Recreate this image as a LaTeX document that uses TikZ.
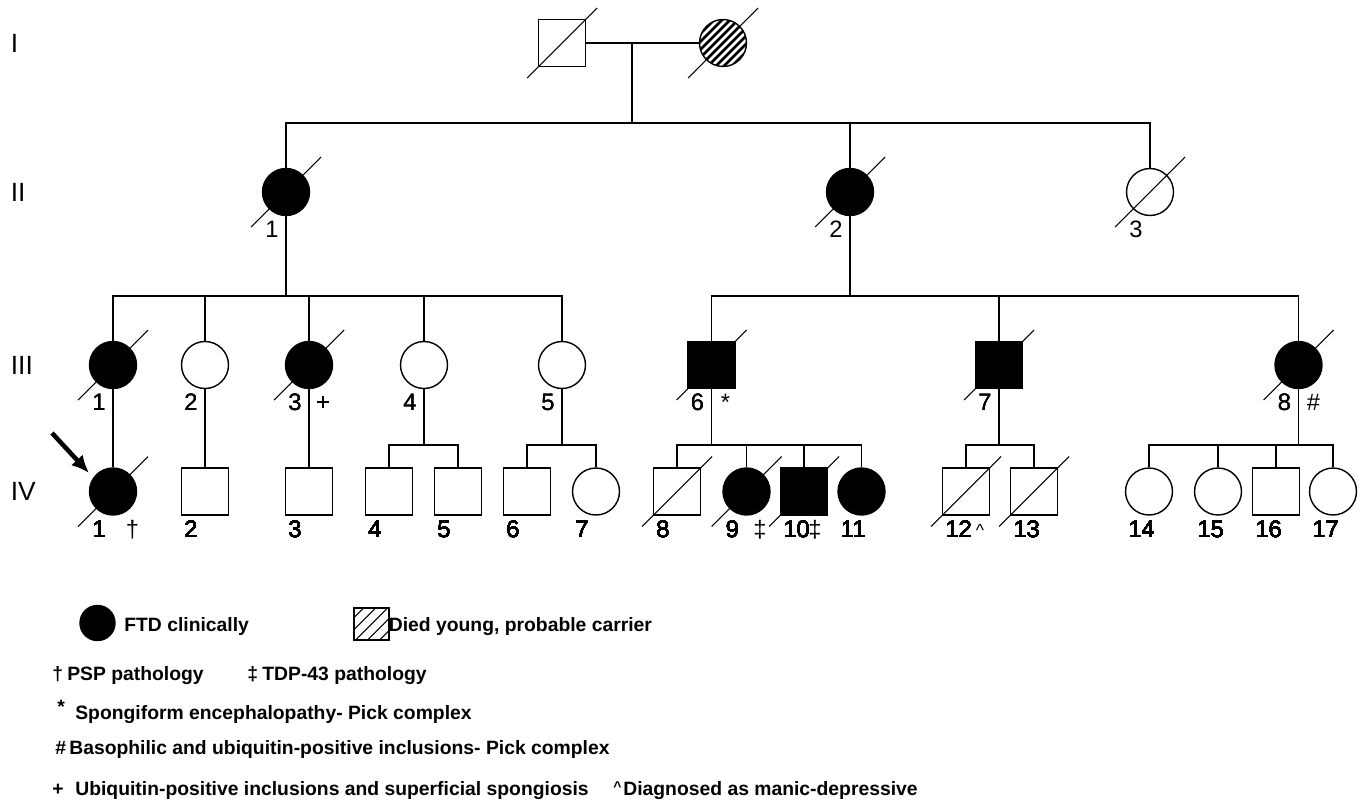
\documentclass[tikz,border=0pt]{standalone}
\usepackage{fontspec}
\setmainfont{Liberation Sans}
\usetikzlibrary{arrows.meta}

\tikzset{
  male/.style={draw, rectangle, line width=0.8pt, minimum size=0.94cm, inner sep=0pt},
  female/.style={draw, circle, line width=0.8pt, minimum size=0.94cm, inner sep=0pt},
  affected/.style={fill=black},
  carrier/.style={path picture={
      \foreach \d in {-24,-20,...,24}
        \draw[line width=1.5pt] ([shift={(\d-40,\d+40)}]path picture bounding box.center)
          -- ([shift={(\d+40,\d-40)}]path picture bounding box.center);}},
  keyhatch/.style={path picture={
      \foreach \d in {-24,-18,...,24}
        \draw[line width=0.6pt] ([shift={(\d-40,\d+40)}]path picture bounding box.center)
          -- ([shift={(\d+40,\d-40)}]path picture bounding box.center);}},
  idnum/.style={anchor=base west, inner sep=0pt, font=\fontsize{13.5}{16}\selectfont},
  idmark/.style={anchor=base, inner sep=0pt, font=\fontsize{13.5}{16}\selectfont},
  genlabel/.style={anchor=west, inner sep=0pt, font=\fontsize{15}{18}\selectfont},
  keytext/.style={anchor=base west, inner sep=0pt, font=\fontsize{11}{13}\selectfont\bfseries},
  kin/.style={line width=0.7pt},
  slashline/.style={line width=0.6pt},
}

\newcommand{\deceased}[1]{\draw[slashline] ([shift={(-35,35)}]#1.center) -- ([shift={(35,-35)}]#1.center);}
\newcommand{\idnumber}[2]{\node[idnum] (n#1) at ([shift={(-21,45.5)}]#1.center) {#2};}

\begin{document}
\begin{tikzpicture}[x=0.02cm, y=-0.02cm]
\useasboundingbox (0,0) rectangle (1365,808);

% generations
\node[genlabel] (gI) at (10.5,43) {I};
\node[genlabel] (gII) at (10.5,192) {II};
\node[genlabel] (gIII) at (10.5,365) {III};
\node[genlabel] (gIV) at (10.5,491.5) {IV};

% generation I
\node[male] (I1) at (562,43) {};
\node[female, carrier] (I2) at (723,43) {};
\deceased{I1} \deceased{I2}

% generation II
\node[female, affected] (II1) at (286,192) {};
\node[female, affected] (II2) at (850,192) {};
\node[female] (II3) at (1150,192) {};
\deceased{II1} \deceased{II2} \deceased{II3}

% generation III
\node[female, affected] (III1) at (113,365) {};
\node[female] (III2) at (205,365) {};
\node[female, affected] (III3) at (309,365) {};
\node[female] (III4) at (424,365) {};
\node[female] (III5) at (562,365) {};
\node[male, affected] (III6) at (711.5,365) {};
\node[male, affected] (III7) at (999,365) {};
\node[female, affected] (III8) at (1298.5,365) {};
\deceased{III1} \deceased{III3} \deceased{III6} \deceased{III7} \deceased{III8}

% generation IV
\node[female, affected] (IV1) at (113,491.5) {};
\node[male] (IV2) at (205,491.5) {};
\node[male] (IV3) at (309,491.5) {};
\node[male] (IV4) at (389,491.5) {};
\node[male] (IV5) at (458,491.5) {};
\node[male] (IV6) at (527,491.5) {};
\node[female] (IV7) at (596,491.5) {};
\node[male] (IV8) at (677,491.5) {};
\node[female, affected] (IV9) at (746.5,491.5) {};
\node[male, affected] (IV10) at (804,491.5) {};
\node[female, affected] (IV11) at (861.5,491.5) {};
\node[male] (IV12) at (966,491.5) {};
\node[male] (IV13) at (1034,491.5) {};
\node[female] (IV14) at (1149,491.5) {};
\node[female] (IV15) at (1218,491.5) {};
\node[male] (IV16) at (1276,491.5) {};
\node[female] (IV17) at (1333,491.5) {};
\deceased{IV1} \deceased{IV8} \deceased{IV9} \deceased{IV10} \deceased{IV12} \deceased{IV13}

% numbers
\foreach \n/\t in {II1/1,II2/2,II3/3}
  \idnumber{\n}{\t}
\foreach \t in {1,...,8}
  \idnumber{III\t}{\t}
\foreach \t in {1,...,17}
  \idnumber{IV\t}{\t}
\node[idmark] (mIII3) at ([shift={(14,45.5)}]III3.center) {+};
\node[idmark] (mIII6) at ([shift={(14,45.5)}]III6.center) {*};
\node[idmark] (mIII8) at ([shift={(15,45.5)}]III8.center) {\#};
\node[idmark] (mIV1) at ([shift={(19.5,45.5)}]IV1.center) {†};
\node[idmark] (mIV9) at ([shift={(13.5,45.5)}]IV9.center) {‡};
\node[idmark] (mIV10) at ([shift={(11,45.5)}]IV10.center) {‡};
\node[idmark, font=\fontsize{10}{12}\selectfont] (mIV12) at ([shift={(14,45)}]IV12.center) {\textasciicircum};

% lines of descent
\draw[kin] (I1.east) -- (I2.west);
\coordinate (c1) at (632,43);
\coordinate (sib1) at (632,123);
\draw[kin] (c1) -- (sib1);
\draw[kin] (II1.north) |- (sib1) -| (II3.north);
\draw[kin] (II2.north) -- (II2.north |- sib1);

\coordinate (sib2) at (286,296);
\draw[kin] (II1.south) -- (sib2);
\draw[kin] (III1.north) |- (sib2) -| (III5.north);
\foreach \n in {III2,III3,III4}
  \draw[kin] (\n.north) -- (\n.north |- sib2);
\coordinate (sib3) at (850,296);
\draw[kin] (II2.south) -- (sib3);
\draw[kin] (III6.north) |- (sib3) -| (III8.north);
\draw[kin] (III7.north) -- (III7.north |- sib3);

\foreach \i in {1,2,3}
  \draw[kin] (III\i.south) -- (IV\i.north);
\coordinate (sib4) at (424,445);
\draw[kin] (III4.south) -- (sib4);
\draw[kin] (IV4.north) |- (sib4) -| (IV5.north);
\coordinate (sib5) at (562,445);
\draw[kin] (III5.south) -- (sib5);
\draw[kin] (IV6.north) |- (sib5) -| (IV7.north);
\coordinate (sib6) at (711.5,445);
\draw[kin] (III6.south) -- (sib6);
\draw[kin] (IV8.north) |- (sib6) -| (IV11.north);
\foreach \n in {IV9,IV10}
  \draw[kin] (\n.north) -- (\n.north |- sib6);
\coordinate (sib7) at (999,445);
\draw[kin] (III7.south) -- (sib7);
\draw[kin] (IV12.north) |- (sib7) -| (IV13.north);
\coordinate (sib8) at (1298.5,445);
\draw[kin] (III8.south) -- (sib8);
\draw[kin] (IV14.north) |- (sib8) -| (IV17.north);
\foreach \n in {IV15,IV16}
  \draw[kin] (\n.north) -- (\n.north |- sib8);

% proband
\coordinate (proband) at (52,433);
\draw[-{Latex[length=10pt,width=9pt]}, line width=2.6pt] (proband) -- ([shift={(-24,-18.5)}]IV1.center);

% key
\node[female, affected, minimum size=0.7cm] (keyFTD) at (97.5,623) {};
\node[keytext] (kFTD) at (124,631) {FTD clinically};
\node[draw, rectangle, line width=0.6pt, minimum width=0.7cm, minimum height=0.64cm, inner sep=0pt, keyhatch] (keyCarrier) at (371.5,624) {};
\node[keytext] (kCarrier) at (388.5,631) {Died young, probable carrier};
\node[keytext] (kPSPsym) at (52,680) {†};
\node[keytext] (kPSP) at (67,680) {PSP pathology};
\node[keytext] (kTDPsym) at (247,680) {‡};
\node[keytext] (kTDP) at (262,680) {TDP-43 pathology};
\node[keytext] (kSpsym) at (57,713) {*};
\node[keytext] (kSp) at (75,719) {Spongiform encephalopathy- Pick complex};
\node[keytext] (kBasym) at (55,754) {\#};
\node[keytext] (kBa) at (69,754) {Basophilic and ubiquitin-positive inclusions- Pick complex};
\node[keytext] (kUbsym) at (52,795) {+};
\node[keytext] (kUb) at (75,795) {Ubiquitin-positive inclusions and superficial spongiosis};
\node[keytext, font=\fontsize{8}{10}\selectfont\bfseries] (kMansym) at (613,791) {\textasciicircum};
\node[keytext] (kMan) at (623,795) {Diagnosed as manic-depressive};
\end{tikzpicture}
\end{document}
